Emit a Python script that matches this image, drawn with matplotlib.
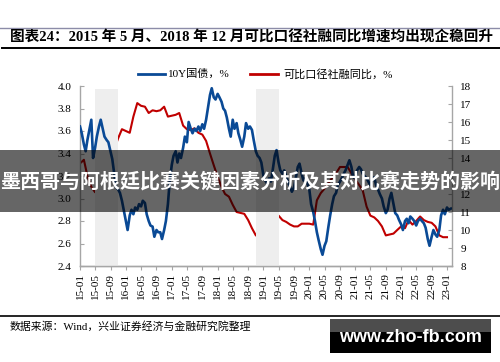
import matplotlib
matplotlib.use('Agg')
import matplotlib.pyplot as plt
import pandas as pd
from matplotlib.patches import Rectangle
from matplotlib.lines import Line2D

# ---------------- data ----------------
title_text = "图表24：2015 年 5 月、2018 年 12 月可比口径社融同比增速均出现企稳回升"
overlay_text = "墨西哥与阿根廷比赛关键因素分析及其对比赛走势的影响"
source_text = "数据来源：Wind，兴业证券经济与金融研究院整理"
watermark_text = "www.zho-fb.com"
legend_labels = ["10Y国债，%", "可比口径社融同比，%"]

# 10Y government bond yield, semi-monthly from 2015-01
yield_10y = [
    3.64, 3.58, 3.48, 3.42, 3.52, 3.60, 3.70, 3.36, 3.45, 3.55, 3.64, 3.70,
    3.62, 3.55, 3.52, 3.50, 3.42, 3.35, 3.22, 3.10, 3.08, 3.05, 2.98, 2.90,
    2.80, 2.72, 2.85, 2.90, 2.86, 2.92, 2.90, 2.95, 2.93, 2.98, 2.96, 2.86,
    2.80, 2.76, 2.75, 2.66, 2.72, 2.70, 2.70, 2.64, 2.72, 2.80, 2.95, 3.15,
    3.30, 3.38, 3.42, 3.32, 3.40, 3.36, 3.45, 3.55, 3.50, 3.68, 3.62, 3.58,
    3.62, 3.60, 3.64, 3.60, 3.66, 3.62, 3.70, 3.80, 3.92, 3.98, 3.90, 3.88,
    3.93, 3.90, 3.86, 3.80, 3.78, 3.72, 3.62, 3.55, 3.70, 3.62, 3.67, 3.58,
    3.52, 3.46, 3.55, 3.67, 3.62, 3.64, 3.61, 3.52, 3.42, 3.38, 3.36, 3.32,
    3.20, 3.16, 3.13, 3.18, 3.15, 3.25, 3.38, 3.43, 3.32, 3.25, 3.22, 3.25,
    3.20, 3.15, 3.10, 3.06, 3.10, 3.18, 3.28, 3.31, 3.22, 3.16, 3.18, 3.14,
    3.08, 2.95, 2.88, 2.80, 2.70, 2.63, 2.55, 2.50, 2.58, 2.62, 2.75, 2.85,
    2.95, 3.02, 3.05, 3.12, 3.15, 3.18, 3.22, 3.25, 3.30, 3.34, 3.28, 3.19,
    3.18, 3.25, 3.28, 3.26, 3.22, 3.20, 3.18, 3.15, 3.12, 3.16, 3.19, 3.12,
    3.08, 3.04, 3.00, 2.93, 2.87, 2.90, 3.00, 3.05, 2.95, 2.87, 2.85, 2.81,
    2.77, 2.72, 2.80, 2.82, 2.78, 2.84, 2.82, 2.80, 2.76, 2.80, 2.82, 2.80,
    2.78, 2.74, 2.64, 2.58, 2.66, 2.72, 2.68, 2.66, 2.72, 2.85, 2.90, 2.86,
    2.92, 2.90, 2.91,
]

# Comparable social financing growth, monthly from 2015-01
tsf_growth = [
    13.7, 13.9, 13.0, 12.4, 12.1, 12.4, 13.0, 13.5, 14.0, 14.5, 15.1, 15.6,
    15.5, 15.4, 16.3, 17.05, 16.9, 16.85, 16.5, 16.65, 16.6, 16.65, 16.85, 16.3,
    16.35, 16.4, 16.5, 15.8, 15.6, 15.55, 15.65, 15.4, 15.3, 14.95, 14.25, 13.6,
    12.95, 12.4, 12.0, 11.85, 11.4, 11.0, 10.95, 10.9, 10.55, 10.1, 9.7, 9.6,
    10.2, 10.1, 10.65, 10.45, 10.8, 10.55, 10.45, 10.3, 10.2, 10.2, 10.35, 10.35,
    10.35, 10.3, 11.65, 12.05, 12.3, 12.6, 12.9, 13.15, 13.5, 13.5, 13.5, 13.15,
    12.8, 12.5, 12.2, 11.3, 10.8, 10.7, 10.5, 10.2, 9.7, 9.75, 9.8, 10.0,
    10.2, 10.1, 10.55, 10.3, 10.5, 10.75, 10.55, 10.45, 10.4, 10.2, 9.7, 9.6,
    9.6,
]

shade_periods = [("2015-05-01", "2015-11-01"), ("2018-11-01", "2019-05-01")]

yield_dates = pd.date_range("2015-01-01", periods=len(yield_10y), freq="SMS")
tsf_dates = pd.date_range("2015-01-01", periods=len(tsf_growth), freq="MS")
tick_dates = pd.date_range("2015-01-01", "2023-01-01", freq="4MS")
tick_labels = [d.strftime("%y-%m") for d in tick_dates]

# ---------------- style ----------------
SERIF_CJK = ["Liberation Serif", "Noto Sans CJK SC"]
BLUE = "#0a4a96"
RED = "#c00000"
SPINE = "#a6a6a6"

fig = plt.figure(figsize=(5.0, 3.62), dpi=100)
W, H = 500.0, 362.0


def fx(px):
    return px / W


def fy(py):
    return 1 - py / H


ax = fig.add_axes([fx(80), fy(266), fx(452) - fx(80), fy(86) - fy(266)])
ax2 = ax.twinx()

for s, e in shade_periods:
    ax.axvspan(pd.Timestamp(s), pd.Timestamp(e), ymin=0, ymax=0.983,
               color="#eeeeee", lw=0, zorder=0)

ax.plot(yield_dates, yield_10y, color=BLUE, lw=1.9, zorder=3)
ax2.plot(tsf_dates, tsf_growth, color=RED, lw=1.5, zorder=3)

ax.set_xlim(pd.Timestamp("2015-01-01"), pd.Timestamp("2023-02-10"))
ax.set_ylim(2.4, 4.0)
ax2.set_ylim(8, 18)
ax.set_yticks([2.4, 2.6, 2.8, 3.0, 3.2, 3.4, 3.6, 3.8, 4.0])
ax.set_yticklabels([f"{v:.1f}" for v in ax.get_yticks()])
ax2.set_yticks(range(8, 19))
ax.set_xticks(tick_dates)
ax.set_xticklabels(tick_labels, rotation=90)

for a in (ax, ax2):
    a.spines["top"].set_visible(False)
    for side in ("left", "right", "bottom"):
        a.spines[side].set_color(SPINE)
        a.spines[side].set_linewidth(1.0)
    a.tick_params(colors="black", labelsize=8, length=3, width=0.8)
    for lab in a.get_xticklabels() + a.get_yticklabels():
        lab.set_fontfamily("Liberation Serif")
ax.spines["right"].set_visible(False)
ax2.spines["left"].set_visible(False)
ax.tick_params(axis="y", direction="in", color=SPINE, pad=6)
ax2.tick_params(axis="y", direction="in", color=SPINE, pad=6)
ax.tick_params(axis="x", direction="out", color=SPINE, pad=2)
ax.set_zorder(ax2.get_zorder() + 1)
ax.patch.set_visible(False)

# legend (manual)
fig.add_artist(Line2D([fx(138), fx(165)], [fy(74), fy(74)], color=BLUE, lw=2))
fig.text(fx(168), fy(74), legend_labels[0], fontsize=8, family=SERIF_CJK,
         va="center", ha="left")
fig.add_artist(Line2D([fx(250), fx(278)], [fy(74), fy(74)], color=RED, lw=2))
fig.text(fx(283), fy(74), legend_labels[1], fontsize=8, family=SERIF_CJK,
         va="center", ha="left")

# title & rules
fig.add_artist(Line2D([0, 1], [fy(28), fy(28)], color="#8c8ca8", lw=1.0))
fig.add_artist(Line2D([fx(2), 1], [fy(47.5), fy(47.5)], color="black", lw=1.4))
fig.text(fx(10), fy(38), title_text, fontsize=10.5, fontweight="bold",
         family=SERIF_CJK, va="center", ha="left")

# footer
fig.add_artist(Line2D([0, 1], [fy(316), fy(316)], color="black", lw=1.2))
fig.text(fx(10), fy(326), source_text, fontsize=7.8, family=SERIF_CJK,
         va="center", ha="left")

# overlay band
fig.add_artist(Rectangle((0, fy(212)), 1, fy(150) - fy(212), transform=fig.transFigure,
                         facecolor="black", alpha=0.6, lw=0, zorder=10))
fig.text(0.5, fy(182), overlay_text, fontsize=14.4, fontweight="bold",
         family=["Noto Sans CJK SC"], color="white", va="center", ha="center",
         zorder=11)

# watermark
fig.add_artist(Rectangle((fx(330), fy(332)), fx(491) - fx(330), fy(319) - fy(332),
                         transform=fig.transFigure, facecolor="#4d4d4d", lw=0, zorder=10))
fig.add_artist(Rectangle((fx(330), fy(353)), fx(491) - fx(330), fy(332) - fy(353),
                         transform=fig.transFigure, facecolor="black", lw=0, zorder=10))
fig.text(fx(410.5), fy(337), watermark_text, fontsize=13, fontweight="bold",
         family=["Liberation Sans"], color="white", va="center", ha="center", zorder=11)

fig.savefig("out.png", dpi=100)
